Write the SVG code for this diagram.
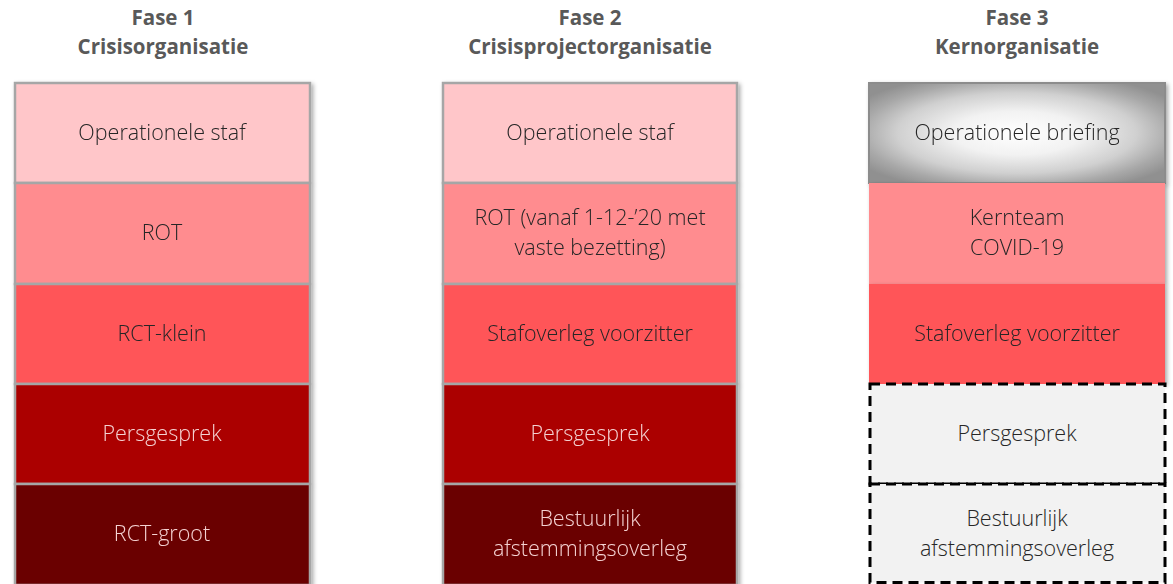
<svg xmlns="http://www.w3.org/2000/svg" width="1173" height="584" viewBox="0 0 1173 584">
<defs>
<radialGradient id="gb" cx="50%" cy="50%" r="62%">
<stop offset="0" stop-color="#ffffff"/>
<stop offset="0.35" stop-color="#f2f2f2"/>
<stop offset="0.65" stop-color="#d0d0d0"/>
<stop offset="0.85" stop-color="#a8a8a8"/>
<stop offset="1" stop-color="#909090"/>
</radialGradient>
<filter id="sh" x="-5%" y="-5%" width="115%" height="120%">
<feDropShadow dx="2" dy="2" stdDeviation="2" flood-color="#000" flood-opacity="0.35"/>
</filter>
</defs>
<style>
.h{font-family:"Source Sans Pro","Open Sans","Noto Sans",sans-serif;font-weight:700;font-size:20.5px;fill:#595959;text-anchor:middle}
.t{font-family:"Source Sans Pro","Open Sans","Noto Sans",sans-serif;font-weight:300;font-size:21.5px;text-anchor:middle}
.dk{fill:#262626}
.lt{fill:#f4d2d2}
.b{stroke:#a6a6a6;stroke-width:2.5}
.d{fill:#f2f2f2;stroke:#000;stroke-width:3;stroke-dasharray:10 6}
.r1{fill:#ffc6c9}.r2{fill:#ff8c8f}.r3{fill:#ff5459}.r4{fill:#ab0000}.r5{fill:#6b0000}
</style>
<rect width="1173" height="584" fill="#fff"/>
<g id="headers">
<text class="h" x="163" y="25">Fase 1</text>
<text class="h" x="163" y="54">Crisisorganisatie</text>
<text class="h" x="590" y="25">Fase 2</text>
<text class="h" x="590" y="54">Crisisprojectorganisatie</text>
<text class="h" x="1017" y="25">Fase 3</text>
<text class="h" x="1017" y="54">Kernorganisatie</text>
</g>
<g id="col1" filter="url(#sh)">
<g id="c1-ops"><rect class="r1 b" x="15" y="83" width="295" height="100"/><text class="t dk" x="162" y="140">Operationele staf</text></g>
<g id="c1-rot"><rect class="r2 b" x="15" y="183" width="295" height="101"/><text class="t dk" x="162" y="240">ROT</text></g>
<g id="c1-rctk"><rect class="r3 b" x="15" y="284" width="295" height="100"/><text class="t dk" x="162" y="341">RCT-klein</text></g>
<g id="c1-pers"><rect class="r4 b" x="15" y="384" width="295" height="100"/><text class="t lt" x="162" y="441">Persgesprek</text></g>
<g id="c1-rctg"><rect class="r5 b" x="15" y="484" width="295" height="101"/><text class="t lt" x="162" y="541">RCT-groot</text></g>
</g>
<g id="col2" filter="url(#sh)">
<g id="c2-ops"><rect class="r1 b" x="443" y="83" width="294" height="100"/><text class="t dk" x="590" y="140">Operationele staf</text></g>
<g id="c2-rot"><rect class="r2 b" x="443" y="183" width="294" height="101"/><text class="t dk" x="590" y="225">ROT (vanaf 1-12-’20 met</text><text class="t dk" x="590" y="255">vaste bezetting)</text></g>
<g id="c2-staf"><rect class="r3 b" x="443" y="284" width="294" height="100"/><text class="t dk" x="590" y="341">Stafoverleg voorzitter</text></g>
<g id="c2-pers"><rect class="r4 b" x="443" y="384" width="294" height="100"/><text class="t lt" x="590" y="441">Persgesprek</text></g>
<g id="c2-best"><rect class="r5 b" x="443" y="484" width="294" height="101"/><text class="t lt" x="590" y="526">Bestuurlijk</text><text class="t lt" x="590" y="556">afstemmingsoverleg</text></g>
</g>
<g id="col3">
<g id="c3-ops" filter="url(#sh)"><rect fill="url(#gb)" stroke="#8c8c8c" stroke-width="2" x="869" y="83" width="296" height="100"/><text class="t dk" x="1017" y="140">Operationele briefing</text></g>
<g id="c3-kern" filter="url(#sh)"><rect class="r2" x="869" y="183" width="296" height="101"/><text class="t dk" x="1017" y="225">Kernteam</text><text class="t dk" x="1017" y="255">COVID-19</text></g>
<g id="c3-staf" filter="url(#sh)"><rect class="r3" x="869" y="284" width="296" height="100"/><text class="t dk" x="1017" y="341">Stafoverleg voorzitter</text></g>
<g id="c3-pers"><rect class="d" x="870" y="384" width="295" height="100"/><text class="t dk" x="1017" y="441">Persgesprek</text></g>
<g id="c3-best"><rect class="d" x="870" y="484" width="295" height="98.5"/><text class="t dk" x="1017" y="526">Bestuurlijk</text><text class="t dk" x="1017" y="556">afstemmingsoverleg</text></g>
</g>
<g id="connectors"/>
</svg>
